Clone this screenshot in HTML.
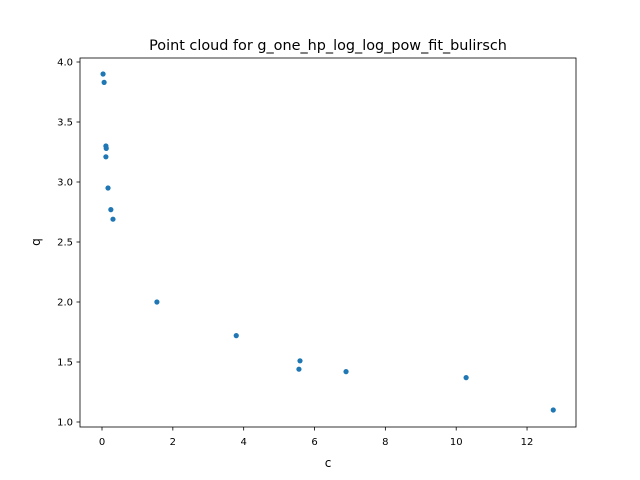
<!DOCTYPE html>
<html><head><meta charset="utf-8"><style>
body{margin:0;background:#fff;}
svg{display:block;font-family:"DejaVu Sans","Liberation Sans",sans-serif;}
</style></head><body>
<svg id="chart" width="640" height="480">
<rect x="0" y="0" width="640" height="480" fill="#fff"/>
<text x="328" y="50" text-anchor="middle" font-size="14.4">Point cloud for g_one_hp_log_log_pow_fit_bulirsch</text>
<g id="xticks"></g>
<g id="yticks"></g>
<g id="points"></g>
<rect x="80" y="58" width="496" height="369" fill="none" stroke="#000" stroke-width="0.8"/>
<text x="328" y="467" text-anchor="middle" font-size="12">c</text>
<text x="40" y="242" text-anchor="middle" font-size="12" transform="rotate(-90 40 242)">q</text>
</svg>
<script>
const cValues=[0.03,0.06,0.11,0.12,0.11,0.17,0.25,0.31,1.55,3.79,5.59,5.56,6.89,10.28,12.74];
const qValues=[3.90,3.83,3.30,3.28,3.21,2.95,2.77,2.69,2.00,1.72,1.51,1.44,1.42,1.37,1.10];
const xTickLabels=[0,2,4,6,8,10,12];
const yTickLabels=["1.0","1.5","2.0","2.5","3.0","3.5","4.0"];
const NS="http://www.w3.org/2000/svg";
const xs=v=>102+v*35.42;
const ys=v=>422-(v-1)*120;
function mk(tag,attrs,parent){const e=document.createElementNS(NS,tag);for(const k in attrs)e.setAttribute(k,attrs[k]);parent.appendChild(e);return e;}
const xg=document.getElementById('xticks');
xTickLabels.forEach(t=>{
  const x=xs(t);
  const l=mk('line',{x1:x,x2:x,y1:427,y2:430.5,stroke:'#000','stroke-width':0.8},xg);
  
  
  const tx=mk('text',{x:x,y:445,'text-anchor':'middle','font-size':10},xg);
  tx.textContent=t;
  
  
});
const yg=document.getElementById('yticks');
yTickLabels.forEach(t=>{
  const y=ys(parseFloat(t));
  const l=mk('line',{x1:76.5,x2:80,y1:y,y2:y,stroke:'#000','stroke-width':0.8},yg);
  
  
  const tx=mk('text',{x:73,y:y+3.5,'text-anchor':'end','font-size':10},yg);
  tx.textContent=t;
  
  
});
const pg=document.getElementById('points');
cValues.forEach((c,i)=>{
  const p=mk('circle',{cx:xs(c),cy:ys(qValues[i]),r:2.6,fill:'#1f77b4'},pg);
  
  
});
</script>
</body></html>
